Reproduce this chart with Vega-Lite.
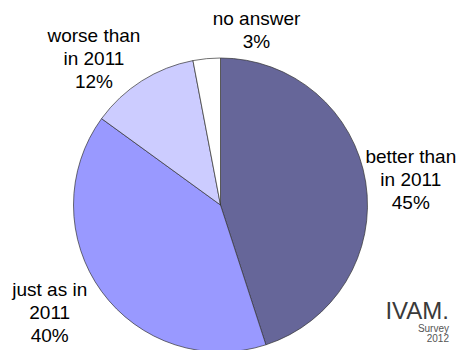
{
  "$schema": "https://vega.github.io/schema/vega-lite/v6.json",
  "width": 441,
  "height": 290,
  "autosize": "none",
  "padding": {"left": 0, "top": 60, "right": 16, "bottom": 0},
  "background": "white",
  "config": {"view": {"stroke": null}},
  "title": {
    "text": "IVAM.",
    "subtitle": ["Survey", "2012"],
    "orient": "bottom",
    "anchor": "end",
    "frame": "group",
    "font": "Liberation Sans",
    "fontSize": 24,
    "fontWeight": "normal",
    "color": "#3a3a3a",
    "subtitleFont": "Liberation Sans",
    "subtitleFontSize": 10,
    "subtitleColor": "#555555",
    "subtitlePadding": 0,
    "subtitleLineHeight": 10,
    "offset": 0,
    "dx": 8,
    "dy": -53
  },
  "data": {
    "values": [
      {"category": "better than in 2011", "label": "better than\nin 2011\n45%", "share": 45, "o": 1},
      {"category": "just as in 2011", "label": "just as in\n2011\n40%", "share": 40, "o": 2},
      {"category": "worse than in 2011", "label": "worse than\nin 2011\n12%", "share": 12, "o": 3},
      {"category": "no answer", "label": "no answer\n3%", "share": 3, "o": 4}
    ]
  },
  "encoding": {
    "theta": {"field": "share", "type": "quantitative", "stack": true},
    "order": {"field": "o", "type": "quantitative"}
  },
  "layer": [
    {
      "mark": {"type": "arc", "outerRadius": 147, "stroke": "#333333", "strokeWidth": 0.7},
      "encoding": {
        "color": {
          "field": "category",
          "type": "nominal",
          "scale": {
            "domain": ["better than in 2011", "just as in 2011", "worse than in 2011", "no answer"],
            "range": ["#666699", "#9999FF", "#CCCCFF", "#FFFFFF"]
          },
          "legend": null
        }
      }
    },
    {
      "mark": {"type": "text", "radius": 192, "thetaOffset": 0.024, "dy": -23, "font": "Liberation Sans", "fontSize": 19, "lineBreak": "\n", "lineHeight": 23, "color": "#000000"},
      "encoding": {"text": {"condition": {"test": "datum.o == 1", "field": "label", "type": "nominal"}, "value": ""}}
    },
    {
      "mark": {"type": "text", "radius": 202, "thetaOffset": 0.065, "dy": -23, "font": "Liberation Sans", "fontSize": 19, "lineBreak": "\n", "lineHeight": 23, "color": "#000000"},
      "encoding": {"text": {"condition": {"test": "datum.o == 2", "field": "label", "type": "nominal"}, "value": ""}}
    },
    {
      "mark": {"type": "text", "radius": 193, "thetaOffset": -0.15, "dy": -23, "font": "Liberation Sans", "fontSize": 19, "lineBreak": "\n", "lineHeight": 23, "color": "#000000"},
      "encoding": {"text": {"condition": {"test": "datum.o == 3", "field": "label", "type": "nominal"}, "value": ""}}
    },
    {
      "mark": {"type": "text", "radius": 178, "thetaOffset": 0.298, "dy": -11.5, "font": "Liberation Sans", "fontSize": 19, "lineBreak": "\n", "lineHeight": 23, "color": "#000000"},
      "encoding": {"text": {"condition": {"test": "datum.o == 4", "field": "label", "type": "nominal"}, "value": ""}}
    }
  ]
}
